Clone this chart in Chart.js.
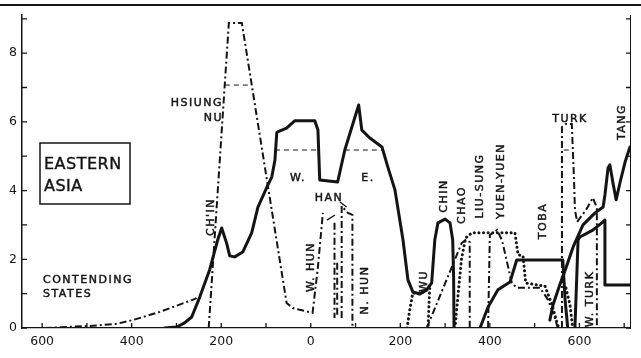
<!DOCTYPE html>
<html><head><meta charset="utf-8">
<script src="https://cdn.jsdelivr.net/npm/chart.js@4"></script>
<style>html,body{margin:0;padding:0;background:#fff}canvas{display:block}</style>
</head><body>
<canvas id="c" width="641" height="358"></canvas>
<script>
// ---- axis ticks (years: negative = B.C.) ----
const xTickValues = [-600,-500,-400,-300,-200,-100,0,100,200,300,400,500,600,700];
const yTickValues = [0,1,2,3,4,5,6,7,8,9];

// ---- solid lines ----
const chinHan = [[-327,0],[-299,0.03],[-282,0.15],[-266,0.32],[-248,0.9],[-226,1.69],[-208,2.56],[-199,2.91],[-188,2.47],[-181,2.1],[-170,2.07],[-152,2.21],[-132,2.77],[-118,3.52],[-96,4.16],[-87,4.4],[-80,4.89],[-76,5.68],[-74,5.71],[-54,5.82],[-36,6.03],[9,6.03],[16,5.76],[20,4.31],[60,4.25],[76,5.18],[107,6.49],[114,5.76],[132,5.53],[159,5.27],[172,4.69],[188,4.02],[206,2.56],[217,1.4],[228,1.05],[244,0.99],[259,1.11],[270,1.31],[277,2.56],[284,3.06],[300,3.17],[311,3.06],[317,2.56],[319,1.5],[320,0]];
const toba = [[378,0],[396,0.61],[418,1.11],[445,1.34],[460,1.98],[563,1.98],[568,0.82],[574,0]];
const sui = [[590,0],[597,2.56],[601,2.65],[630,2.85],[650,3.06],[657,3.14],[657,1.25],[713,1.25]];
const tang = [[534,0.23],[541,0.67],[556,1.25],[570,1.75],[586,2.36],[608,3.0],[635,3.35],[653,3.52],[657,3.87],[664,4.66],[668,4.75],[675,4.22],[682,3.73],[691,4.25],[702,4.83],[713,5.27]];

// ---- dash-dot lines ----
const contending = [[-594,0],[-494,0.06],[-434,0.12],[-398,0.23],[-337,0.47],[-264,0.82],[-255,0.87]];
const hsiungNu = [[-228,0],[-183,8.88],[-154,8.88],[-54,0.73],[-40,0.58],[4,0.44],[16,1.78],[27,3.35]];
const hanA = [[53,3.06],[53,0.29]];
const hanB = [[59,1.9],[59,0.3]];
const nHun = [[69,0.29],[69,3.55],[83,3.35],[93,3.29],[93,0]];
const chao = [[259,0],[337,2.47],[346,2.56],[355,2.5],[355,0]];
const yuenYuen = [[396,0],[400,2.71],[416,2.85],[427,2.56],[449,1.31],[460,1.17],[512,1.17],[530,0.82],[545,0.29],[552,0]];
const turk = [[561,0],[561,5.85],[570,5.94],[583,5.94],[588,4.31],[590,3.44],[595,3.09]];
const wTurk = [[595,3.09],[615,3.44],[630,3.79],[639,3.5],[639,0]];

// ---- dotted lines ----
const wu = [[215,0],[221,0.52],[228,1.02],[244,0.99],[259,1.11],[266,1.25],[264,0.67],[262,0]];
const liuSung = [[322,0],[329,0.96],[337,2.04],[346,2.62],[360,2.77],[456,2.77],[463,2.13],[474,2.1],[480,1.31],[523,1.22],[539,0.67],[550,0.15],[554,0]];
const chen = [[570,1.16],[579,0.67],[585,0]];

// ---- thin dashed reference lines ----
const hsiungHalf = [[-192,7.07],[-133,7.07]];
const wHanHalf = [[-80,5.18],[16,5.18]];
const eHanHalf = [[76,5.18],[161,5.18]];
const turkHalf = [[565,5.18],[583,5.18]];

// ---- leader lines ----
const leaderA = [[36,3.14],[54,3.29]];
const leaderB = [[65,3.67],[80,3.52]];

const INK = '#141414';
const SOLID = {borderWidth:3, borderDash:[], borderCapStyle:'round', borderJoinStyle:'round'};
const DASHDOT = {borderWidth:2, borderDash:[7,3,2,3], borderCapStyle:'butt', borderJoinStyle:'miter'};
const DOTTED = {borderWidth:3, borderDash:[0.1,4.5], borderCapStyle:'round', borderJoinStyle:'round'};
const THIN = {borderWidth:1, borderDash:[5,4], borderCapStyle:'butt'};
const LEADER = {borderWidth:1.3, borderDash:[], borderCapStyle:'butt'};

const series = [
  [chinHan,SOLID],[toba,SOLID],[sui,SOLID],[tang,SOLID],
  [contending,DASHDOT],[hsiungNu,DASHDOT],[hanA,DASHDOT],[hanB,DASHDOT],[nHun,DASHDOT],
  [chao,DASHDOT],[yuenYuen,DASHDOT],[turk,DASHDOT],[wTurk,DASHDOT],
  [wu,DOTTED],[liuSung,DOTTED],[chen,DOTTED],
  [hsiungHalf,THIN],[wHanHalf,THIN],[eHanHalf,THIN],[turkHalf,THIN],
  [leaderA,LEADER],[leaderB,LEADER]
];

const labelList = [
  {t:'HSIUNG', x:223, y:103, a:'right'},
  {t:'NU', x:223, y:118, a:'right'},
  {t:'W.', x:298, y:178},
  {t:'E.', x:368, y:178},
  {t:'HAN', x:329, y:198},
  {t:'TURK', x:570, y:119},
  {t:'CONTENDING', x:43, y:280, a:'left'},
  {t:'STATES', x:43, y:294, a:'left'},
  {t:"CH'IN", x:211, y:217, r:true},
  {t:'W. HUN', x:311, y:267, r:true},
  {t:'N. HUN', x:365, y:290, r:true},
  {t:'WU', x:424, y:281, r:true},
  {t:'CHIN', x:444, y:196, r:true},
  {t:'CHAO', x:462, y:205, r:true},
  {t:'LIU-SUNG', x:480, y:186, r:true},
  {t:'YUEN-YUEN', x:501, y:181, r:true},
  {t:'TOBA', x:543, y:221, r:true},
  {t:'TANG', x:622, y:122, r:true},
  {t:'W. TURK', x:590, y:299, r:true}
];

const decor = {
  id:'decor',
  beforeDraw(chart){
    const c = chart.ctx; c.save(); c.fillStyle='#fff'; c.fillRect(0,0,chart.width,chart.height); c.restore();
  },
  afterDraw(chart){
    const {ctx, chartArea:a, scales:{x,y}} = chart;
    ctx.save();
    ctx.strokeStyle = INK; ctx.lineWidth = 1.3; ctx.setLineDash([]);
    xTickValues.forEach(v=>{const p=x.getPixelForValue(v); ctx.beginPath(); ctx.moveTo(p,a.bottom); ctx.lineTo(p,a.bottom-5); ctx.stroke();});
    yTickValues.forEach(v=>{const p=y.getPixelForValue(v); ctx.beginPath(); ctx.moveTo(a.left,p); ctx.lineTo(a.left+5,p); ctx.moveTo(a.right,p); ctx.lineTo(a.right-4,p); ctx.stroke();});
    // top rule
    ctx.lineWidth = 2; ctx.beginPath(); ctx.moveTo(0,5); ctx.lineTo(chart.width,5); ctx.stroke();
    // title box
    ctx.lineWidth = 1.5; ctx.strokeRect(40,143,90,61);
    ctx.fillStyle = INK; ctx.textBaseline = 'middle'; ctx.textAlign = 'left';
    ctx.font = '16px "DejaVu Sans"'; ctx.letterSpacing = '0.5px';
    ctx.lineWidth = 0.4;
    ['EASTERN','ASIA'].forEach((t,i)=>{ ctx.fillText(t, 44, 165+22*i); ctx.strokeText(t, 44, 165+22*i); });
    ctx.font = '11px "DejaVu Sans"'; ctx.letterSpacing = '1.5px';
    ctx.lineWidth = 0.45;
    labelList.forEach(l=>{
      ctx.save();
      ctx.translate(l.x, l.y);
      if (l.r) ctx.rotate(-Math.PI/2);
      ctx.textAlign = l.a || 'center';
      ctx.fillText(l.t, 0, 0);
      ctx.strokeText(l.t, 0, 0);
      ctx.restore();
    });
    ctx.restore();
  }
};

Chart.defaults.font.family = '"DejaVu Sans"';
new Chart(document.getElementById('c'), {
  type: 'scatter',
  data: {
    datasets: series.map(([d,s]) => Object.assign({
      data: d.map(p=>({x:p[0], y:p[1]})),
      showLine: true, pointRadius: 0, pointHoverRadius: 0,
      borderColor: INK, backgroundColor: INK, fill: false, tension: 0
    }, s))
  },
  options: {
    responsive: false, animation: false, devicePixelRatio: 1,
    layout: {padding: {top: 15, left: 0, right: 0, bottom: 0}},
    plugins: {legend: {display: false}, tooltip: {enabled: false}},
    scales: {
      x: {
        type: 'linear', min: -645, max: 713,
        afterBuildTicks: s => { s.ticks = xTickValues.map(v=>({value:v})); },
        ticks: {callback: v => (v % 200 === 0 ? String(Math.abs(v)) : ''), color: INK, padding: 6, autoSkip: false, maxRotation: 0, font: {size: 12.5}},
        grid: {display: false, drawTicks: false},
        border: {display: true, color: INK, width: 1.2, dash: [4,2]},
        afterFit: s => { s.height = 30; }
      },
      y: {
        type: 'linear', position: 'left', min: 0, max: 9.11,
        afterBuildTicks: s => { s.ticks = yTickValues.map(v=>({value:v})); },
        ticks: {callback: v => (v % 2 === 0 ? String(v) : ''), color: INK, padding: 5, font: {size: 12.5}},
        grid: {display: false, drawTicks: false},
        border: {display: true, color: INK, width: 1.5},
        afterFit: s => { s.width = 22; }
      },
      y2: {
        type: 'linear', position: 'right', min: 0, max: 9.11,
        ticks: {display: false},
        grid: {display: false, drawTicks: false},
        border: {display: true, color: INK, width: 1},
        afterFit: s => { s.width = 11; }
      }
    }
  },
  plugins: [decor]
});
</script>
</body></html>
